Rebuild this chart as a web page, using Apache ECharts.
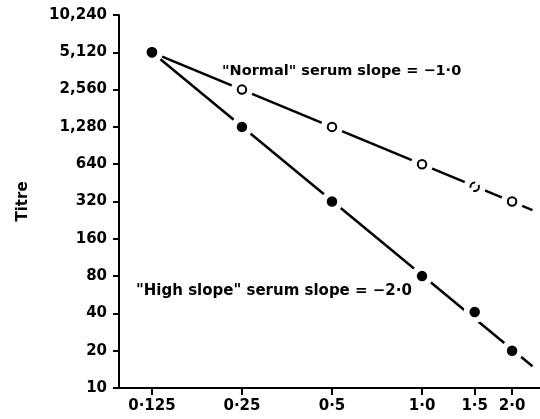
<!DOCTYPE html>
<html><head><meta charset="utf-8">
<script src="https://cdn.jsdelivr.net/npm/echarts@6/dist/echarts.min.js"></script>
<style>html,body{margin:0;padding:0;background:#fff}#c{width:540px;height:419px}</style>
</head><body><div id="c"></div>
<script>
const dilutions = [0.125, 0.25, 0.5, 1.0, 1.5, 2.0];
const normalTitre = [5120, 2560, 1280, 640, 420, 320];
const highTitre = [5120, 1280, 320, 80, 41, 20];
const fitX = [0.125, 2.34];
const normalFit = [5120, 273];
const highFit = [5120, 15];
const xTickLabels = ['0·125', '0·25', '0·5', '1·0', '1·5', '2·0'];
const yTicks = [10, 20, 40, 80, 160, 320, 640, 1280, 2560, 5120, 10240];
const yTickLabels = ['10', '20', '40', '80', '160', '320', '640', '1,280', '2,560', '5,120', '10,240'];

function nearestLabel(v, ticks, labels) {
  let bi = 0, bd = Infinity;
  ticks.forEach((t, i) => { const d = Math.abs(Math.log(v / t)); if (d < bd) { bd = d; bi = i; } });
  return labels[bi];
}
const FONT = 'DejaVu Sans';
const chart = echarts.init(document.getElementById('c'), null, {renderer: 'canvas'});
const allPts = dilutions.map((x, i) => [x, normalTitre[i]]).concat(dilutions.map((x, i) => [x, highTitre[i]]));
chart.setOption({
  animation: false,
  backgroundColor: '#fff',
  grid: {left: 119, right: 0, top: 15, bottom: 31, containLabel: false},
  xAxis: {
    type: 'log', logBase: 2, min: 0.097, max: 2.48,
    axisLine: {show: true, onZero: false, lineStyle: {color: '#000', width: 2}},
    axisTick: {show: true, customValues: dilutions, length: 7, lineStyle: {color: '#000', width: 2}},
    axisLabel: {customValues: dilutions, formatter: v => nearestLabel(v, dilutions, xTickLabels),
      color: '#000', fontSize: 15, fontFamily: FONT, fontWeight: 'bold', margin: 11},
    splitLine: {show: false}, minorTick: {show: false}
  },
  yAxis: {
    type: 'log', logBase: 2, min: 10, max: 10240,
    name: 'Titre', nameLocation: 'middle', nameRotate: 90, nameGap: 88,
    nameTextStyle: {color: '#000', fontSize: 15, fontFamily: FONT, fontWeight: 'bold'},
    axisLine: {show: true, onZero: false, lineStyle: {color: '#000', width: 2}},
    axisTick: {show: true, customValues: yTicks, length: 6, lineStyle: {color: '#000', width: 2}},
    axisLabel: {customValues: yTicks, formatter: v => nearestLabel(v, yTicks, yTickLabels),
      color: '#000', fontSize: 15, fontFamily: FONT, fontWeight: 'bold', margin: 12},
    splitLine: {show: false}, minorTick: {show: false}
  },
  graphic: [
    {type: 'text', left: 222, top: 64, z: 100, zlevel: 1, style: {text: '"Normal" serum slope = \u22121·0', font: 'bold 14.5px "DejaVu Sans"', fill: '#000'}},
    {type: 'text', left: 136, top: 284, z: 100, zlevel: 1, style: {text: '"High slope" serum slope = \u22122·0', font: 'bold 15px "DejaVu Sans"', fill: '#000'}}
  ],
  series: [
    {type: 'line', data: fitX.map((x, i) => [x, normalFit[i]]), symbol: 'none', z: 1, silent: true,
      lineStyle: {color: '#000', width: 2.5}},
    {type: 'line', data: fitX.map((x, i) => [x, highFit[i]]), symbol: 'none', z: 1, silent: true,
      lineStyle: {color: '#000', width: 2.5}},
    {type: 'scatter', data: allPts, symbol: 'circle', symbolSize: 22, z: 10, silent: true,
      itemStyle: {color: '#fff', opacity: 1, borderWidth: 0}},
    {type: 'scatter', z: 11, symbol: 'circle', symbolSize: 8.5,
      data: dilutions.map((x, i) => ({value: [x, normalTitre[i]],
        itemStyle: {borderType: x === 1.5 ? 'dashed' : 'solid'}})),
      itemStyle: {color: '#fff', borderColor: '#000', borderWidth: 2, opacity: 1}},
    {type: 'scatter', z: 12, symbol: 'circle', symbolSize: 10.5,
      data: dilutions.map((x, i) => [x, highTitre[i]]),
      itemStyle: {color: '#000', opacity: 1}}
  ]
});
</script></body></html>
